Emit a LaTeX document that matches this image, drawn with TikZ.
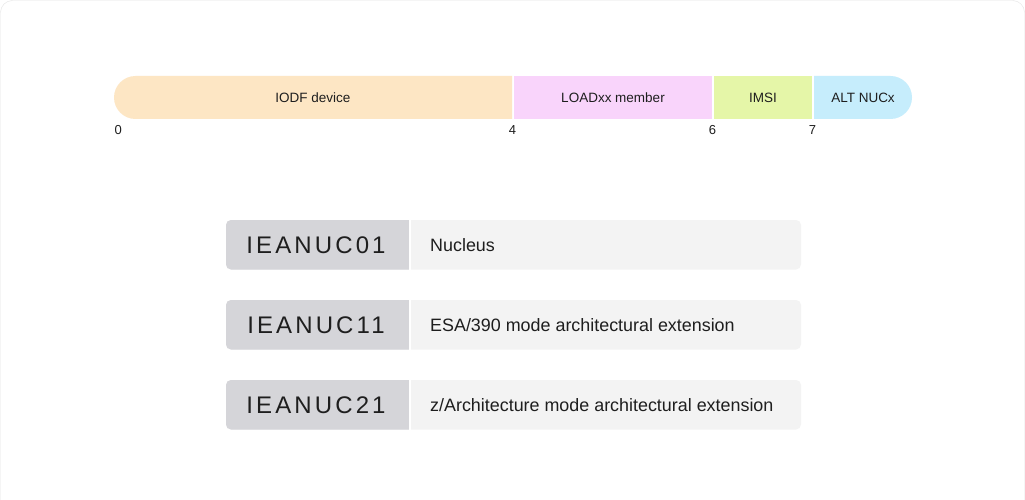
\documentclass[tikz,border=0pt]{standalone}
\usepackage{fontspec}
\setmainfont{Liberation Sans}
\newfontfamily\codefont[LetterSpace=13]{Liberation Sans}
\usepackage{xcolor}
\usetikzlibrary{positioning,calc}

\definecolor{cardline}{HTML}{E4E4E4}
\definecolor{inktext}{HTML}{1E1E1E}
\definecolor{iodffill}{HTML}{FDE6C4}
\definecolor{loadfill}{HTML}{F9D4FB}
\definecolor{imsifill}{HTML}{E5F6A8}
\definecolor{altfill}{HTML}{C6EDFC}
\definecolor{codefill}{HTML}{D5D5D9}
\definecolor{descfill}{HTML}{F3F3F3}

\tikzset{
  seglabel/.style={text=inktext, font=\fontsize{13.5}{16}\selectfont},
  ticklabel/.style={text=inktext, font=\fontsize{13}{15}\selectfont, inner sep=0pt},
  codelabel/.style={text=inktext, font=\codefont\fontsize{24}{27}\selectfont, inner sep=0pt},
  desclabel/.style={text=inktext, font=\fontsize{17.9}{21}\selectfont, inner sep=0pt, anchor=west}
}

\begin{document}
\begin{tikzpicture}[x=1pt,y=-1pt]
	\useasboundingbox (0,0) rectangle (1025,500);
	\clip (0,0) rectangle (1025,500);
	\fill[white] (0,0) rectangle (1025,500);
	\draw[cardline, rounded corners=12pt] (0.5,530) -- (0.5,0.5) -- (1024.5,0.5) -- (1024.5,530);

	% field layout bar
	\fill[iodffill] (512,119) -- (512,76) [rounded corners=21.5pt] -- (114,76) -- (114,119) [sharp corners] -- cycle;
	\fill[loadfill] (514,76) rectangle (712,119);
	\fill[imsifill] (714,76) rectangle (812,119);
	\fill[altfill] (814,76) [rounded corners=21.5pt] -- (912,76) -- (912,119) [sharp corners] -- (814,119) -- cycle;

	\node[seglabel] (iodf) at (313,97.5) {IODF device};
	\node[seglabel] (load) at (613,97.5) {LOADxx member};
	\node[seglabel] (imsi) at (763,97.5) {IMSI};
	\node[seglabel] (alt) at (863,97.5) {ALT NUCx};

	% offsets
	\node[ticklabel, anchor=west] (t0) at (114.5,130) {0};
	\foreach \v/\x in {4/512.5,6/712.5,7/812.5}
		\node[ticklabel] (t\v) at (\x,130) {\v};

	% nucleus members
	\foreach \code/\desc [count=\i] in {IEANUC01/Nucleus, IEANUC11/{ESA/390 mode architectural extension}, IEANUC21/{z/Architecture mode architectural extension}} {
		\pgfmathsetmacro{\ytop}{220+80*(\i-1)}
		\pgfmathsetmacro{\ybot}{\ytop+49.5}
		\fill[descfill, rounded corners=5pt] (226,\ytop) rectangle (801,\ybot);
		\fill[codefill] (410,\ybot) -- (410,\ytop) [rounded corners=5pt] -- (226,\ytop) -- (226,\ybot) [sharp corners] -- cycle;
		\draw[white, line width=2pt] (410,\ytop) -- (410,\ybot);
		\node[codelabel] (code\i) at (316,\ytop+24.75) {\code};
		\node[desclabel] (desc\i) at (430,\ytop+24.75) {\desc};
	}
\end{tikzpicture}
\end{document}
